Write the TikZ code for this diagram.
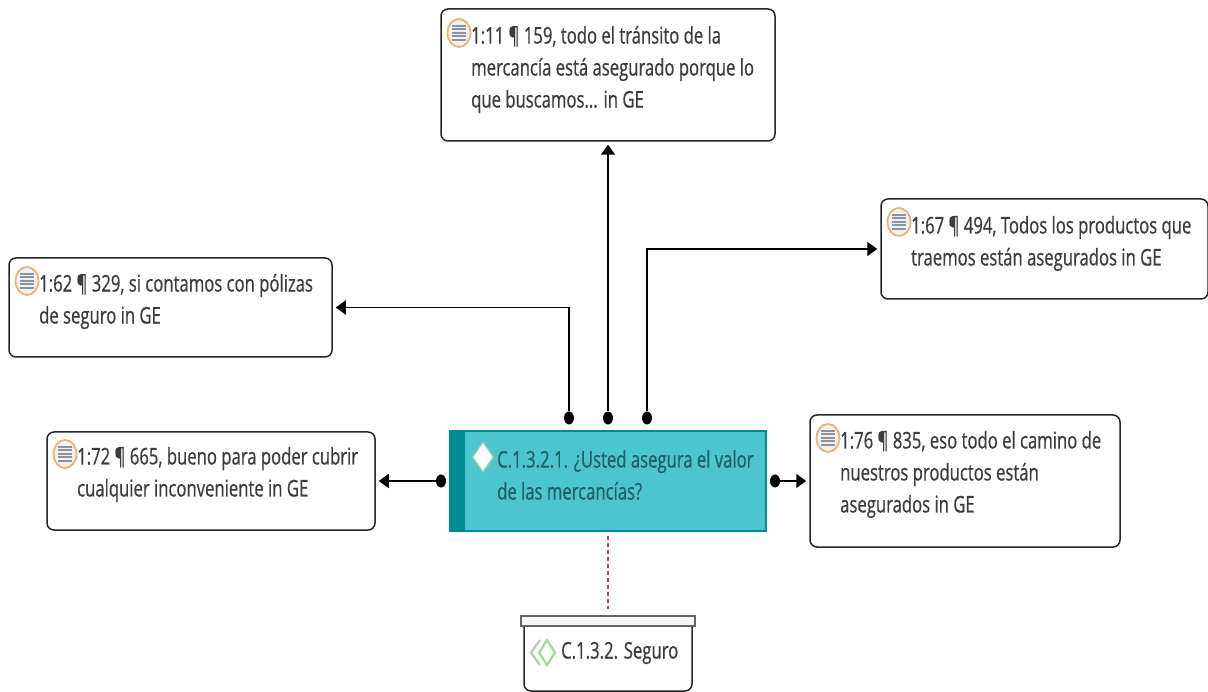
\documentclass[tikz,border=0pt]{standalone}
\usepackage{fontspec}
\setmainfont[FakeStretch=0.725,FakeBold=0.6]{Open Sans}
\usetikzlibrary{arrows.meta,shapes.geometric}
\definecolor{txt}{HTML}{3C3C3C}
\definecolor{teal1}{HTML}{4CC5D0}
\definecolor{teal2}{HTML}{008C96}
\definecolor{tealtxt}{HTML}{1F5F68}
\definecolor{ring}{HTML}{E8B27C}
\definecolor{ringf}{HTML}{F3F1EE}
\definecolor{lines}{HTML}{8A93A3}
\definecolor{grn}{HTML}{A5D6A0}
\definecolor{relc}{HTML}{B5484F}
\tikzset{
  x=1pt,y=-1pt,
  quotebox/.style={draw=black!85,line width=1.5pt,rounded corners=7pt,fill=white,inner sep=0pt},
  lab/.style={anchor=west,align=left,font=\fontsize{23}{32}\selectfont,text=txt,inner sep=0pt},
  conn/.style={draw=black,line width=1.9pt,-{Triangle[length=10pt,width=14pt]},shorten >=3pt},
  dotn/.style={ellipse,fill=black,minimum width=10pt,minimum height=13pt,inner sep=0pt},
  rel/.style={draw=relc,line width=1.4pt,dash pattern=on 4pt off 3pt,shorten >=6pt,shorten <=4pt},
  chev/.style={grn,line width=2.2pt},
}
\newcommand{\qicon}[2]{%
  \fill[ringf,draw=ring,line width=1.8pt] (#1,#2) ellipse[x radius=11.5,y radius=14];
  \foreach \dy in {-7,-3.5,0,3.5,7}{\draw[lines,line width=2pt] (#1-7,#2+\dy) -- (#1+7,#2+\dy);}
}
\begin{document}
\begin{tikzpicture}
\useasboundingbox (0,0) rectangle (1208,692);
\fill[white] (0,0) rectangle (1208,692);
% boxes
\node[quotebox,minimum width=334pt,minimum height=132pt] (top) at (608,75) {};
\node[quotebox,minimum width=327pt,minimum height=100pt] (rtop) at (1044.5,249) {};
\node[quotebox,minimum width=323pt,minimum height=99pt] (ltop) at (170.5,307.5) {};
\node[quotebox,minimum width=328pt,minimum height=98pt] (lbot) at (211,481) {};
\node[quotebox,minimum width=310pt,minimum height=132pt] (rbot) at (965,481) {};
% centre
\node[draw=teal2,fill=teal1,line width=1.4pt,minimum width=316pt,minimum height=100pt,inner sep=0pt] (cen) at (608,481) {};
\fill[teal2] (cen.north west) rectangle (465,531);
% bottom group
\draw[black!85,line width=1.5pt,fill=white,rounded corners=7pt] (524,622) -- (524,691) -- (692,691) -- (692,622);
\node[draw=black!60,fill=white!96!black,line width=1.5pt,minimum width=174pt,minimum height=10pt,inner sep=0pt] (lid) at (608,621) {};
% dots
\node[dotn] (d1) at (569,418) {};
\node[dotn] (d2) at (608,418) {};
\node[dotn] (d3) at (647,418) {};
\node[dotn] (d4) at (441,481) {};
\node[dotn] (d5) at (775,481) {};
% connectors
\draw[conn] (d1) |- (ltop.east);
\draw[conn] (d2) -- (top.south);
\draw[conn] (d3) |- (rtop.west);
\draw[conn] (d4) -- (lbot.east);
\draw[conn] (d5) -- (rbot.west);
\draw[rel] (cen.south) -- (lid.north);
% icons
\qicon{459}{33}
\qicon{899}{222}
\qicon{27}{281}
\qicon{65}{454}
\qicon{828}{438}
% diamonds
\node[diamond,fill=white,draw=grn,line width=1.2pt,minimum width=21pt,minimum height=30pt,inner sep=0pt] (dm) at (483,457) {};
\draw[chev] (540,640) -- (531,652.5) -- (540,665);
\draw[chev] (547,640) -- (539,652.5) -- (547,665) -- (555,652.5) -- cycle;
% labels
\node[lab] (t1) at (471,69.5) {1:11 ¶ 159, todo el tránsito de la\\mercancía está asegurado porque lo\\que buscamos... in GE};
\node[lab] (t2) at (911,243.5) {1:67 ¶ 494, Todos los productos que\\traemos están asegurados in GE};
\node[lab] (t3) at (39,301.5) {1:62 ¶ 329, si contamos con pólizas\\de seguro in GE};
\node[lab] (t4) at (77,474.5) {1:72 ¶ 665, bueno para poder cubrir\\cualquier inconveniente in GE};
\node[lab] (t5) at (840,474.5) {1:76 ¶ 835, eso todo el camino de\\nuestros productos están\\asegurados in GE};
\node[lab,text=tealtxt] (t6) at (497,475) {C.1.3.2.1. ¿Usted asegura el valor\\de las mercancías?};
\node[lab] (t7) at (561,653) {C.1.3.2. Seguro};
\end{tikzpicture}
\end{document}
